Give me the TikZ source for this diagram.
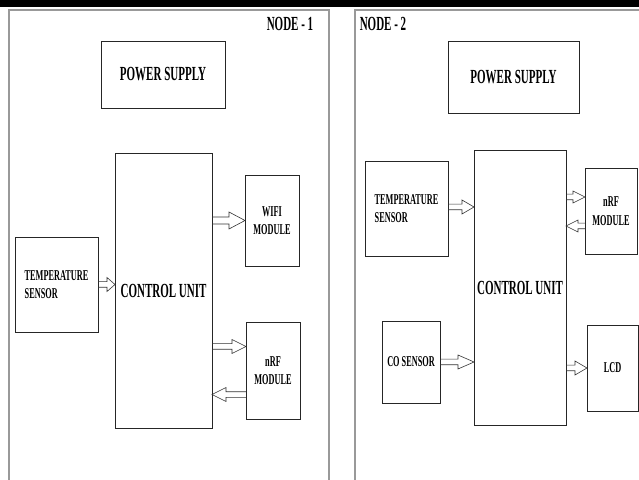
\documentclass[tikz,border=0pt]{standalone}
\usepackage{fontspec}
\setmainfont{Liberation Serif}[FakeStretch=0.55]
\usepackage{tikz}
\usetikzlibrary{arrows.meta, positioning, calc}

\tikzset{
  head len/.initial=12pt, head half/.initial=7pt, shaft half/.initial=2.8pt,
  flow/.style={draw=black!80, line width=0.6pt, line join=miter,
    to path={let \p1=(\tikztostart), \p2=(\tikztotarget), \n1={sign(\x2-\x1)},
      \n2={\pgfkeysvalueof{/tikz/head len}}, \n3={\pgfkeysvalueof{/tikz/head half}},
      \n4={\pgfkeysvalueof{/tikz/shaft half}} in
      (\x1,\y1+\n4) -- (\x2-\n1*\n2,\y1+\n4) -- (\x2-\n1*\n2,\y1+\n3) -- (\x2,\y1)
      -- (\x2-\n1*\n2,\y1-\n3) -- (\x2-\n1*\n2,\y1-\n4) -- (\x1,\y1-\n4)}}
}

\begin{document}
\begin{tikzpicture}[
  x=1pt, y=1pt,
  blk/.style={draw=black!85, line width=0.7pt, inner sep=0pt, outer sep=0pt, align=center},
  bigtxt/.style={font=\bfseries\fontsize{20}{22}\selectfont},
  smalltxt/.style={font=\bfseries\fontsize{15}{18.5}\selectfont},
  frame/.style={draw=black!40, line width=1.2pt},
  bigflow/.style={flow, head len=16pt, head half=8.5pt, shaft half=3.5pt}
]
\useasboundingbox (0,0) rectangle (639,479);
\fill[black] (0,472) rectangle (639,479);

% panels
\draw[frame] (9,-5) -- (9,469) -- (329,469) -- (329,-5);
\draw[frame] (355,-5) -- (355,469) -- (645,469);
\node[bigtxt] (lab1) at (290,455) {NODE - 1};
\node[bigtxt] (lab2) at (383,455) {NODE - 2};

% node 1
\node[blk, bigtxt, minimum width=97pt, minimum height=275pt] (cu1) at (163.5,188.5) {CONTROL UNIT};
\node[blk, bigtxt, minimum width=124pt, minimum height=67pt] (pw1) at (163,404.5) {POWER SUPPLY};
\node[blk, smalltxt, align=left, minimum width=83pt, minimum height=95pt, left=17pt of cu1, yshift=6pt] (temp1) {TEMPERATURE\\SENSOR};
\node[blk, smalltxt, minimum width=54pt, minimum height=91pt, right=33pt of cu1, yshift=70pt] (wifi) {WIFI\\MODULE};
\node[blk, smalltxt, minimum width=54pt, minimum height=97pt, right=34pt of cu1, yshift=-80pt] (nrf1) {nRF\\MODULE};

\draw[flow, head len=8pt] (temp1.east) to (temp1.east -| cu1.west);
\draw[bigflow] (wifi.west -| cu1.east) to (wifi.west);
\draw[flow, head len=14pt] ([yshift=24pt]nrf1.west -| cu1.east) to ([yshift=24pt]nrf1.west);
\draw[flow, head len=14pt] ([yshift=-24pt]nrf1.west) to ([yshift=-24pt]nrf1.west -| cu1.east);

% node 2
\node[blk, bigtxt, minimum width=92pt, minimum height=275pt] (cu2) at (520,191.5) {CONTROL UNIT};
\node[blk, bigtxt, minimum width=131pt, minimum height=72pt] (pw2) at (513.5,402) {POWER SUPPLY};
\node[blk, smalltxt, align=left, minimum width=83pt, minimum height=95pt, left=26pt of cu2, yshift=79pt] (temp2) {TEMPERATURE\\SENSOR};
\node[blk, smalltxt, minimum width=58pt, minimum height=82pt, left=34pt of cu2, yshift=-74.5pt] (co) {CO SENSOR};
\node[blk, smalltxt, minimum width=52pt, minimum height=86pt, right=19pt of cu2, yshift=76.5pt] (nrf2) {nRF\\MODULE};
\node[blk, smalltxt, minimum width=51pt, minimum height=86pt, right=21pt of cu2, yshift=-80.5pt] (lcd) {LCD};

\draw[flow] ([yshift=1.5pt]temp2.east) to ([yshift=1.5pt]temp2.east -| cu2.west);
\draw[flow, head half=6pt] ([yshift=14pt]nrf2.west -| cu2.east) to ([yshift=14pt]nrf2.west);
\draw[flow, head half=6pt] ([yshift=-15pt]nrf2.west) to ([yshift=-15pt]nrf2.west -| cu2.east);
\draw[flow, head len=16pt] (co.east) to (co.east -| cu2.west);
\draw[flow] (lcd.west -| cu2.east) to (lcd.west);
\end{tikzpicture}
\end{document}
